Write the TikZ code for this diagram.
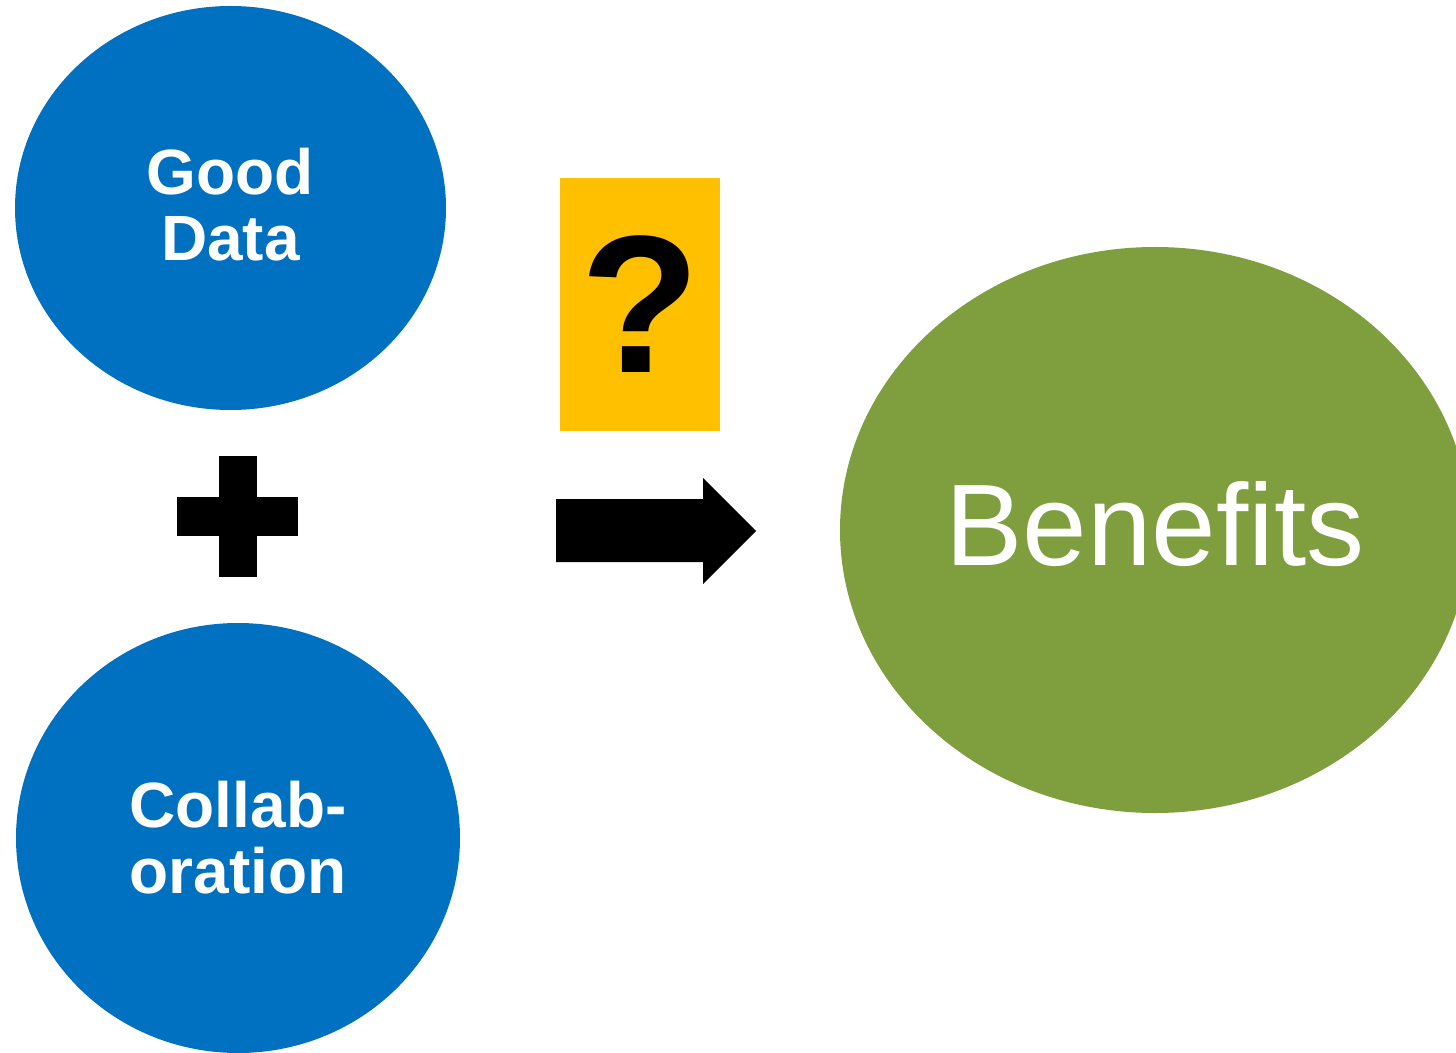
\documentclass[tikz,border=0pt]{standalone}
\usepackage{fontspec}
\setmainfont{Liberation Sans}
\usepackage{xcolor}
\usepackage{tikz}
\usetikzlibrary{shapes.geometric}
\definecolor{inputColor}{HTML}{0070C0}
\definecolor{resultColor}{HTML}{7F9F3F}
\definecolor{questionColor}{HTML}{FFC000}

\begin{document}
\begin{tikzpicture}[x=0.5pt, y=-0.5pt,
    blob/.style={ellipse, inner sep=0pt, text=white, align=center},
    inputText/.style={font=\bfseries\fontsize{32}{33}\selectfont}]
    \useasboundingbox (0,0) rectangle (1456,1053);
    \clip (0,0) rectangle (1456,1053);
    \node[blob, inputText, fill=inputColor, minimum width=215.5pt, minimum height=202pt, text depth=4pt] (gooddata) at (230.5,208) {Good\\Data};
    \node[blob, inputText, fill=inputColor, minimum width=222pt, minimum height=215pt] (collab) at (238,838) {Collab-\\oration};
    \node[blob, fill=resultColor, minimum width=315pt, minimum height=283pt, text depth=7pt, font=\fontsize{58}{58}\selectfont] (benefits) at (1155,530) {Benefits};
    \node[fill=questionColor, inner sep=0pt, minimum width=80pt, minimum height=126.5pt, font=\bfseries\fontsize{98}{98}\selectfont] (query) at (640,304.5) {?};
    % plus sign
    \fill (219,456) rectangle (257,577);
    \fill (177,497) rectangle (298,536);
    % block arrow
    \fill (556,499) -- (703,499) -- (703,478) -- (756,531) -- (703,584) -- (703,562) -- (556,562) -- cycle;
\end{tikzpicture}
\end{document}
